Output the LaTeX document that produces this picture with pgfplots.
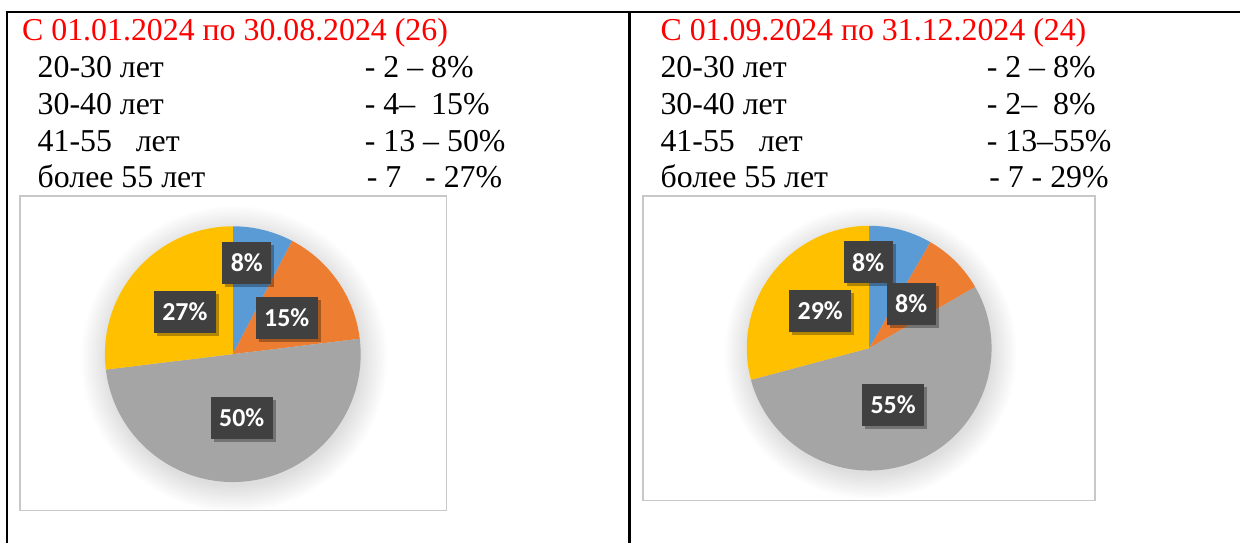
\documentclass[border=0pt]{standalone}
\usepackage{pgfplots}
\pgfplotsset{compat=1.18}
\usepackage{pgfplotstable}
\usepackage{fontspec}
\setmainfont{Liberation Serif}
\newfontfamily\lblfont{Carlito}
\usetikzlibrary{shadows}
\definecolor{slice0}{HTML}{5B9BD5}
\definecolor{slice1}{HTML}{ED7D31}
\definecolor{slice2}{HTML}{A5A5A5}
\definecolor{slice3}{HTML}{FFC000}
\definecolor{lblbg}{HTML}{404040}
\definecolor{framegray}{HTML}{C8C8C8}
\definecolor{titlered}{HTML}{FF0000}
\pgfdeclareradialshading{pieglow}{\pgfpoint{0bp}{0bp}}{color(0bp)=(black!13); color(20.5bp)=(black!13); color(25bp)=(white); color(50bp)=(white)}

% period 01.01.2024 - 30.08.2024 (26)
\pgfplotstableread{
group count
20-30 2
30-40 4
41-55 13
55+ 7
}\dataA
% period 01.09.2024 - 31.12.2024 (24)
\pgfplotstableread{
group count
20-30 2
30-40 2
41-55 13
55+ 7
}\dataB

\newcommand\drawpie[4]{% table, cx, cy, r
  \xdef\pietot{0}%
  \pgfplotstableforeachcolumnelement{count}\of#1\as\val{\pgfmathsetmacro\tmp{\pietot+\val}\xdef\pietot{\tmp}}%
  \xdef\piecum{0}%
  \pgfplotstableforeachcolumnelement{count}\of#1\as\val{%
    \pgfmathsetmacro\pa{90-360*\piecum/\pietot}%
    \pgfmathsetmacro\pb{90-360*(\piecum+\val)/\pietot}%
    \edef\pc{slice\pgfplotstablerow}%
    \fill[fill=\pc] (axis cs:#2,#3) -- +(\pa:#4) arc[start angle=\pa, end angle=\pb, radius=#4] -- cycle;%
    \pgfmathsetmacro\tmp{\piecum+\val}\xdef\piecum{\tmp}}%
}

\tikzset{
  lbl/.style={fill=lblbg, text=white, font=\lblfont\bfseries\fontsize{26}{30}\selectfont,
    minimum height=42bp, inner xsep=8.5bp, inner ysep=0pt,
    drop shadow={shadow xshift=3bp, shadow yshift=-3bp, fill=black, opacity=0.3}},
  txt/.style={anchor=base west, inner sep=0pt, font=\rmfamily\fontsize{32}{38}\selectfont},
}

\begin{document}
\begin{tikzpicture}
\begin{axis}[
  width=1241bp, height=544bp, scale only axis,
  xmin=0, xmax=1241, ymin=0, ymax=544,
  hide axis, clip=false,
]
\path (axis cs:0,0) rectangle (axis cs:1241,544);

% glows
\shade[shading=pieglow] (axis cs:234,185) circle[radius=154bp];
\shade[shading=pieglow] (axis cs:871,191) circle[radius=147bp];

% chart frames
\draw[framegray, line width=1.8bp] (axis cs:20,348) rectangle (axis cs:447,33);
\draw[framegray, line width=1.8bp] (axis cs:644,348) rectangle (axis cs:1096,43);

% table borders
\draw[black, line width=2.4bp] (axis cs:6,532) -- (axis cs:1241,532);
\draw[black, line width=2.4bp] (axis cs:7,532) -- (axis cs:7,0);
\draw[black, line width=2.4bp] (axis cs:630,532) -- (axis cs:630,0);

% left cell text
\node[txt, text=titlered] at (axis cs:22,503) {С 01.01.2024 по 30.08.2024 (26)};
\node[txt] at (axis cs:37.5,466) {20-30 лет};
\node[txt] at (axis cs:37.5,429) {30-40 лет};
\node[txt] at (axis cs:37.5,392) {41-55\ \ \ лет};
\node[txt] at (axis cs:37.5,356) {более 55 лет};
\node[txt] at (axis cs:365,466) {- 2 – 8\%};
\node[txt] at (axis cs:365,429) {- 4–\ \ 15\%};
\node[txt] at (axis cs:365,392) {- 13 – 50\%};
\node[txt] at (axis cs:367,356) {- 7\ \ \ - 27\%};

% right cell text
\node[txt, text=titlered] at (axis cs:661,503) {С 01.09.2024 по 31.12.2024 (24)};
\node[txt] at (axis cs:661,466) {20-30 лет};
\node[txt] at (axis cs:661,429) {30-40 лет};
\node[txt] at (axis cs:661,392) {41-55\ \ \ лет};
\node[txt] at (axis cs:661,356) {более 55 лет};
\node[txt] at (axis cs:987.5,466) {- 2 – 8\%};
\node[txt] at (axis cs:987.5,429) {- 2–\ \ 8\%};
\node[txt] at (axis cs:987.5,392) {- 13–55\%};
\node[txt] at (axis cs:990,356) {- 7 - 29\%};

% pies
\pgfplotsextra{\drawpie{\dataA}{233}{189.5}{128bp}}
\pgfplotsextra{\drawpie{\dataB}{870}{195.5}{122.5bp}}

% labels
\node[lbl] at (axis cs:247,281) {8\%};
\node[lbl] at (axis cs:287,226) {15\%};
\node[lbl] at (axis cs:185,232) {27\%};
\node[lbl] at (axis cs:242,126) {50\%};
\node[lbl] at (axis cs:869,281.5) {8\%};
\node[lbl] at (axis cs:912,240) {8\%};
\node[lbl] at (axis cs:821,233) {29\%};
\node[lbl] at (axis cs:894,139) {55\%};
\end{axis}
\end{tikzpicture}
\end{document}
